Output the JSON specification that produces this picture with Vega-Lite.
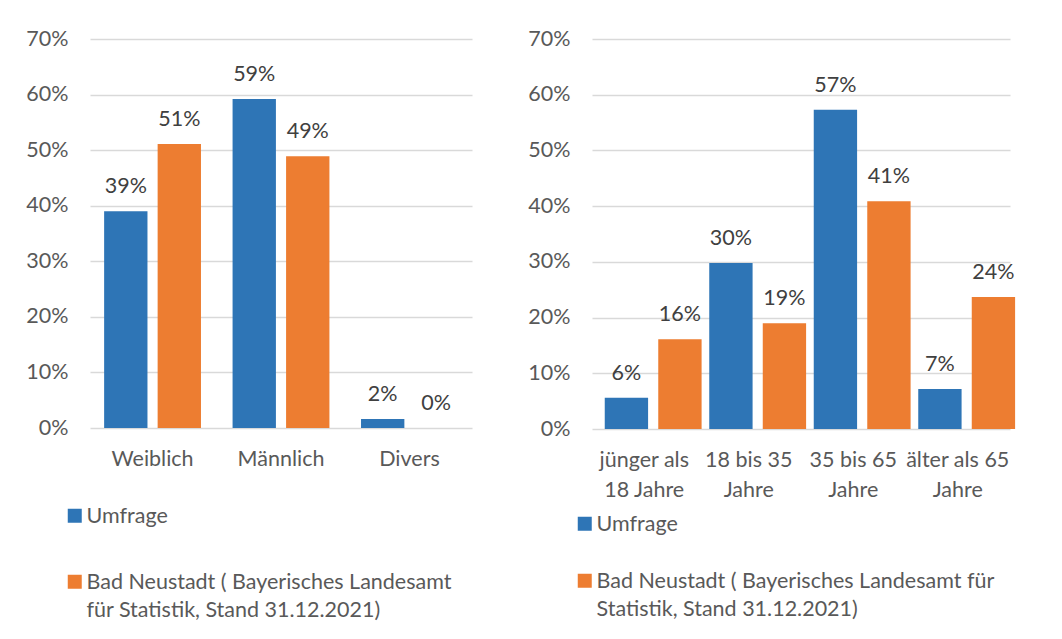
{
  "$schema": "https://vega.github.io/schema/vega-lite/v6.json",
  "background": "white",
  "padding": {"left": 25, "top": 28, "right": 0, "bottom": 0},
  "spacing": 55,
  "config": {
    "font": "Lato",
    "view": {"stroke": null},
    "axis": {"labelFont": "Lato", "labelFontSize": 21.5, "labelColor": "#595959", "ticks": false, "domain": false, "title": null},
    "legend": {"labelFont": "Lato", "labelFontSize": 21.5, "labelColor": "#595959", "title": null, "padding": 0}
  },
  "resolve": {"legend": {"color": "independent"}, "scale": {"color": "independent"}},
  "hconcat": [
    {
      "width": 382,
      "height": 389,
      "data": {"values": [
        {"category": "Weiblich", "series": "Umfrage", "value": 0.39},
        {"category": "Weiblich", "series": "Bad Neustadt ( Bayerisches Landesamt für Statistik, Stand 31.12.2021)", "value": 0.511},
        {"category": "Männlich", "series": "Umfrage", "value": 0.592},
        {"category": "Männlich", "series": "Bad Neustadt ( Bayerisches Landesamt für Statistik, Stand 31.12.2021)", "value": 0.489},
        {"category": "Divers", "series": "Umfrage", "value": 0.016},
        {"category": "Divers", "series": "Bad Neustadt ( Bayerisches Landesamt für Statistik, Stand 31.12.2021)", "value": 0.0}
      ]},
      "encoding": {
        "x": {"field": "category", "type": "nominal", "sort": null,
          "scale": {"paddingInner": 0.246, "paddingOuter": 0.11},
          "axis": {"labelAngle": 0, "labelPadding": 20, "labelBaseline": "top"}},
        "xOffset": {"field": "series", "type": "nominal",
          "sort": ["Umfrage", "Bad Neustadt ( Bayerisches Landesamt für Statistik, Stand 31.12.2021)"],
          "scale": {"paddingInner": 0.19, "paddingOuter": 0}},
        "y": {"field": "value", "type": "quantitative",
          "scale": {"domain": [0, 0.7]},
          "axis": {"format": ".0%", "values": [0, 0.1, 0.2, 0.3, 0.4, 0.5, 0.6, 0.7], "grid": true, "gridColor": "#D9D9D9", "gridWidth": 1.5, "labelPadding": 22}}
      },
      "layer": [
        {
          "mark": {"type": "bar"},
          "encoding": {
            "color": {"field": "series", "type": "nominal",
              "scale": {"domain": ["Umfrage", "Bad Neustadt ( Bayerisches Landesamt für Statistik, Stand 31.12.2021)"], "range": ["#2E75B6", "#ED7D31"]},
              "legend": {"orient": "none", "legendX": -26, "legendY": 466, "direction": "vertical",
                "symbolType": "square", "symbolSize": 196, "symbolStrokeWidth": 0,
                "labelLimit": 600, "labelOffset": 1, "rowPadding": 43, "labelBaseline": "alphabetic",
                "labelExpr": "datum.label == 'Umfrage' ? 'Umfrage' : ['Bad Neustadt ( Bayerisches Landesamt', 'für Statistik, Stand 31.12.2021)']",
                "encode": {"labels": {"update": {"dy": {"value": 7}, "lineHeight": {"value": 28}}}}}
            }
          }
        },
        {
          "mark": {"type": "text", "baseline": "alphabetic", "dy": -18, "fontSize": 21.5, "color": "#404040", "font": "Lato"},
          "encoding": {"text": {"field": "value", "type": "quantitative", "format": ".0%"}}
        }
      ]
    },
    {
      "width": 418,
      "height": 390,
      "data": {"values": [
        {"category": "jünger als 18 Jahre", "series": "Umfrage", "value": 0.056},
        {"category": "jünger als 18 Jahre", "series": "Bad Neustadt ( Bayerisches Landesamt für Statistik, Stand 31.12.2021)", "value": 0.161},
        {"category": "18 bis 35 Jahre", "series": "Umfrage", "value": 0.298},
        {"category": "18 bis 35 Jahre", "series": "Bad Neustadt ( Bayerisches Landesamt für Statistik, Stand 31.12.2021)", "value": 0.19},
        {"category": "35 bis 65 Jahre", "series": "Umfrage", "value": 0.573},
        {"category": "35 bis 65 Jahre", "series": "Bad Neustadt ( Bayerisches Landesamt für Statistik, Stand 31.12.2021)", "value": 0.409},
        {"category": "älter als 65 Jahre", "series": "Umfrage", "value": 0.072},
        {"category": "älter als 65 Jahre", "series": "Bad Neustadt ( Bayerisches Landesamt für Statistik, Stand 31.12.2021)", "value": 0.237}
      ]},
      "encoding": {
        "x": {"field": "category", "type": "nominal", "sort": null,
          "scale": {"paddingInner": 0.244, "paddingOuter": 0.122},
          "axis": {"labelAngle": 0, "labelPadding": 20, "labelBaseline": "top", "labelLineHeight": 30,
            "labelExpr": "datum.value == 'jünger als 18 Jahre' ? ['jünger als', '18 Jahre'] : [replace(datum.value, ' Jahre', ''), 'Jahre']"}},
        "xOffset": {"field": "series", "type": "nominal",
          "sort": ["Umfrage", "Bad Neustadt ( Bayerisches Landesamt für Statistik, Stand 31.12.2021)"],
          "scale": {"paddingInner": 0.205, "paddingOuter": 0}},
        "y": {"field": "value", "type": "quantitative",
          "scale": {"domain": [0, 0.7]},
          "axis": {"format": ".0%", "values": [0, 0.1, 0.2, 0.3, 0.4, 0.5, 0.6, 0.7], "grid": true, "gridColor": "#D9D9D9", "gridWidth": 1.5, "labelPadding": 22}}
      },
      "layer": [
        {
          "mark": {"type": "bar"},
          "encoding": {
            "color": {"field": "series", "type": "nominal",
              "scale": {"domain": ["Umfrage", "Bad Neustadt ( Bayerisches Landesamt für Statistik, Stand 31.12.2021)"], "range": ["#2E75B6", "#ED7D31"]},
              "legend": {"orient": "none", "legendX": -18, "legendY": 474, "direction": "vertical",
                "symbolType": "square", "symbolSize": 196, "symbolStrokeWidth": 0,
                "labelLimit": 600, "labelOffset": 1, "rowPadding": 34, "labelBaseline": "alphabetic",
                "labelExpr": "datum.label == 'Umfrage' ? 'Umfrage' : ['Bad Neustadt ( Bayerisches Landesamt für', 'Statistik, Stand 31.12.2021)']",
                "encode": {"labels": {"update": {"dy": {"value": 7}, "lineHeight": {"value": 28}}}}}
            }
          }
        },
        {
          "mark": {"type": "text", "baseline": "alphabetic", "dy": -18, "fontSize": 21.5, "color": "#404040", "font": "Lato"},
          "encoding": {"text": {"field": "value", "type": "quantitative", "format": ".0%"}}
        }
      ]
    }
  ]
}
